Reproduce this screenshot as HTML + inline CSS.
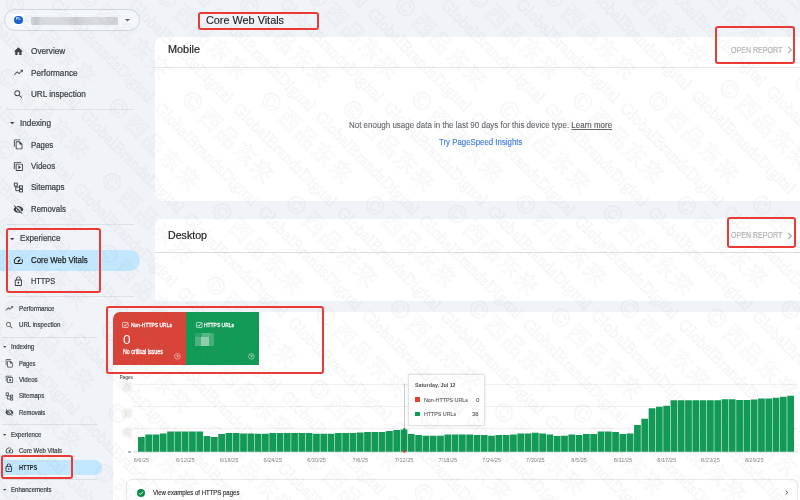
<!DOCTYPE html>
<html lang="en"><head><meta charset="utf-8"><title>Core Web Vitals</title>
<style>
html,body{margin:0;padding:0}
body{width:800px;height:500px;overflow:hidden;position:relative;background:#f0f4f9;font-family:"Liberation Sans","Noto Sans CJK SC",sans-serif}
.t{position:absolute;white-space:nowrap;transform-origin:0 50%}
.a{position:absolute}
.card{position:absolute;background:#fff}
.hr{position:absolute;height:1px;background:#dde1e6}
.rb{position:absolute;border:2px solid #ea3a33;border-radius:3px;box-sizing:border-box}
svg{position:absolute;overflow:visible}
</style></head><body>
<div class="card" style="left:155px;top:36.5px;width:660px;height:164.5px;border-radius:7px"></div>
<div class="hr" style="left:155px;top:66.5px;width:645px;background:#e6e8eb"></div>
<div class="card" style="left:155px;top:218.7px;width:660px;height:82.3px;border-radius:7px 7px 0 0"></div>
<div class="hr" style="left:155px;top:252px;width:645px;background:#dcdfe3"></div>
<div class="card" style="left:113px;top:312px;width:700px;height:200px"></div>
<div class="t" style="left:206.00px;top:11.50px;font-size:11px;line-height:17.6px;color:#1f1f1f;transform:scaleX(0.9864);-webkit-text-stroke:0.15px #1f1f1f;">Core Web Vitals</div>
<div class="t" style="left:168.00px;top:41.20px;font-size:10.5px;line-height:16.8px;color:#1f1f1f;transform:scaleX(1.0345);-webkit-text-stroke:0.2px #1f1f1f;">Mobile</div>
<div class="t" style="left:168.00px;top:227.20px;font-size:10.5px;line-height:16.8px;color:#1f1f1f;transform:scaleX(1.0125);-webkit-text-stroke:0.2px #1f1f1f;">Desktop</div>
<div class="t" style="left:731.10px;top:43.88px;font-size:8.4px;line-height:13.44px;color:#b0b2b5;transform:scaleX(0.8444);-webkit-text-stroke:0.15px #b0b2b5;">OPEN REPORT</div>
<div class="t" style="left:731.10px;top:229.28px;font-size:8.4px;line-height:13.44px;color:#b0b2b5;transform:scaleX(0.8444);-webkit-text-stroke:0.15px #b0b2b5;">OPEN REPORT</div>
<svg style="left:787px;top:46.4px" width="6" height="8" viewBox="0 0 6 8"><path d="M1.3 1 L4.3 4 L1.3 7" fill="none" stroke="#a8abae" stroke-width="1.1"/></svg>
<svg style="left:787px;top:231.8px" width="6" height="8" viewBox="0 0 6 8"><path d="M1.3 1 L4.3 4 L1.3 7" fill="none" stroke="#a8abae" stroke-width="1.1"/></svg>
<div class="t" style="left:349.20px;top:118.66px;font-size:8.3px;line-height:13.28px;color:#63676b;transform:scaleX(0.9603);-webkit-text-stroke:0.1px #63676b;">Not enough usage data in the last 90 days for this device type. <span style="color:#4a4d51;text-decoration:underline">Learn more</span></div>
<div class="t" style="left:439.30px;top:135.76px;font-size:8.3px;line-height:13.28px;color:#3b78e7;transform:scaleX(0.9447);-webkit-text-stroke:0.12px #3b78e7;">Try PageSpeed Insights</div>
<div class="a" style="left:3.5px;top:9px;width:136px;height:22px;border:1px solid #d3d8de;border-radius:11px;box-sizing:border-box;background:#f3f6fa"></div>
<div class="a" style="left:12.8px;top:14.4px;width:11.2px;height:10.8px;background:#fff;border-radius:1px"></div>
<div class="a" style="left:14.4px;top:15.7px;width:8.2px;height:8.2px;border-radius:50%;background:#1a62c9"></div>
<div class="t" style="left:16.10px;top:17.42px;font-size:3.6px;line-height:5.76px;color:#e8f0fe;font-weight:700;">PL</div>
<div class="a" style="left:31px;top:16.8px;width:87px;height:8.6px;background:linear-gradient(90deg,#d3d7dc 0,#c6cbd0 6%,#d8dbe0 12%,#d6dade 40%,#cbcfd4 52%,#d1d5da 60%,#d9dce1 75%,#ced2d7 100%);filter:blur(.7px);border-radius:1px"></div>
<svg style="left:124.50px;top:18.75px" width="5" height="2.5" viewBox="0 0 10 5"><path d="M0 0h10L5 5z" fill="#5f6368"/></svg>
<svg style="left:12.60px;top:45.80px" width="10.8" height="10.8" viewBox="0 0 24 24" fill="#3c4043" color="#3c4043"><path d="M10 20v-6h4v6h5v-8h3L12 3 2 12h3v8z"/></svg>
<div class="t" style="left:31.00px;top:45.16px;font-size:8.3px;line-height:13.28px;color:#3c4043;transform:scaleX(0.9887);-webkit-text-stroke:0.22px #3c4043;">Overview</div>
<svg style="left:12.60px;top:67.20px" width="10.8" height="10.8" viewBox="0 0 24 24" fill="#3c4043" color="#3c4043"><path d="M16 6l2.29 2.29-4.88 4.88-4-4L2 16.59 3.41 18l6-6 4 4 6.3-6.29L22 12V6z"/></svg>
<div class="t" style="left:31.00px;top:66.56px;font-size:8.3px;line-height:13.28px;color:#3c4043;transform:scaleX(0.9786);-webkit-text-stroke:0.22px #3c4043;">Performance</div>
<svg style="left:12.60px;top:88.60px" width="10.8" height="10.8" viewBox="0 0 24 24" fill="#3c4043" color="#3c4043"><path d="M15.5 14h-.79l-.28-.27A6.471 6.471 0 0 0 16 9.5 6.5 6.5 0 1 0 9.5 16c1.61 0 3.09-.59 4.23-1.57l.27.28v.79l5 4.99L20.49 19l-4.99-5zm-6 0C7.01 14 5 11.99 5 9.5S7.01 5 9.500 5 14 7.010 14 9.500 11.990 14 9.500 14z"/></svg>
<div class="t" style="left:31.00px;top:87.96px;font-size:8.3px;line-height:13.28px;color:#3c4043;transform:scaleX(0.9790);-webkit-text-stroke:0.22px #3c4043;">URL inspection</div>
<div class="hr" style="left:7px;top:108.8px;width:127px"></div>
<svg style="left:10.30px;top:122.20px" width="4.4" height="2.2" viewBox="0 0 10 5"><path d="M0 0h10L5 5z" fill="#3c4043"/></svg>
<div class="t" style="left:20.20px;top:117.06px;font-size:8.3px;line-height:13.28px;color:#3c4043;transform:scaleX(0.9879);-webkit-text-stroke:0.22px #3c4043;">Indexing</div>
<svg style="left:12.60px;top:139.20px" width="10.8" height="10.8" viewBox="0 0 24 24" fill="#3c4043" color="#3c4043"><path d="M16 1H4c-1.100 0-2 .900-2 2v14h2V3h12V1zm-1 4H8c-1.100 0-1.990.900-1.990 2L6 21c0 1.100.890 2 1.990 2H19c1.100 0 2-.900 2-2V11l-6-6zM8 21V7h6v5h5v9H8z"/></svg>
<div class="t" style="left:31.00px;top:138.56px;font-size:8.3px;line-height:13.28px;color:#3c4043;transform:scaleX(0.9433);-webkit-text-stroke:0.22px #3c4043;">Pages</div>
<svg style="left:12.60px;top:160.60px" width="10.8" height="10.8" viewBox="0 0 24 24" fill="#3c4043" color="#3c4043"><path transform="translate(0 24) scale(1 -1)" d="M4 6H2v14c0 1.100.900 2 2 2h14v-2H4V6zm16-4H8c-1.100 0-2 .900-2 2v12c0 1.100.900 2 2 2h12c1.100 0 2-.900 2-2V4c0-1.100-.900-2-2-2zm0 14H8V4h12v12zM12 5.500v9l6-4.500z"/></svg>
<div class="t" style="left:31.00px;top:159.96px;font-size:8.3px;line-height:13.28px;color:#3c4043;transform:scaleX(0.9592);-webkit-text-stroke:0.22px #3c4043;">Videos</div>
<svg style="left:12.60px;top:182.10px" width="10.8" height="10.8" viewBox="0 0 24 24" fill="#3c4043" color="#3c4043"><g fill="none" stroke="currentColor" stroke-width="2.100"><rect x="3" y="2.500" width="6.500" height="6.500"/><rect x="14.500" y="8.500" width="6.500" height="5.500"/><rect x="14.500" y="16.500" width="6.500" height="5.500"/><path d="M6.250 9v10.250h8.250M6.250 11.250h8.250"/></g></svg>
<div class="t" style="left:31.00px;top:181.46px;font-size:8.3px;line-height:13.28px;color:#3c4043;transform:scaleX(0.9711);-webkit-text-stroke:0.22px #3c4043;">Sitemaps</div>
<svg style="left:12.60px;top:203.60px" width="10.8" height="10.8" viewBox="0 0 24 24" fill="#3c4043" color="#3c4043"><path d="M12 7c2.760 0 5 2.240 5 5 0 .650-.130 1.260-.360 1.830l2.920 2.920c1.510-1.260 2.700-2.890 3.430-4.750-1.730-4.390-6-7.500-11-7.500-1.400 0-2.740.250-3.980.700l2.160 2.160C10.740 7.130 11.350 7 12 7zM2 4.270l2.280 2.280.460.460C3.080 8.300 1.780 10.020 1 12c1.730 4.390 6 7.500 11 7.500 1.550 0 3.030-.300 4.380-.840l.420.420L19.730 22 21 20.730 3.270 3 2 4.270zM7.530 9.800l1.550 1.550c-.050.210-.080.430-.080.650 0 1.660 1.340 3 3 3 .220 0 .440-.030.650-.080l1.550 1.550c-.670.330-1.410.530-2.200.530-2.760 0-5-2.240-5-5 0-.790.200-1.530.530-2.200zm4.310-.780l3.150 3.150.020-.160c0-1.660-1.340-3-3-3l-.170.010z"/></svg>
<div class="t" style="left:31.00px;top:202.96px;font-size:8.3px;line-height:13.28px;color:#3c4043;transform:scaleX(0.9431);-webkit-text-stroke:0.22px #3c4043;">Removals</div>
<div class="hr" style="left:7px;top:223.8px;width:127px"></div>
<svg style="left:10.30px;top:237.50px" width="4.4" height="2.2" viewBox="0 0 10 5"><path d="M0 0h10L5 5z" fill="#3c4043"/></svg>
<div class="t" style="left:20.40px;top:232.26px;font-size:8.3px;line-height:13.28px;color:#3c4043;transform:scaleX(0.9729);-webkit-text-stroke:0.22px #3c4043;">Experience</div>
<div class="a" style="left:-20px;top:249.6px;width:159.5px;height:21.2px;border-radius:11px;background:#c2e7ff"></div>
<svg style="left:12.60px;top:254.90px" width="10.8" height="10.8" viewBox="0 0 24 24" fill="#1f1f1f" color="#1f1f1f"><path d="M20.380 8.570l-1.230 1.850a8 8 0 0 1-.220 7.580H5.070A8 8 0 0 1 15.580 6.850l1.850-1.230A10 10 0 0 0 3.350 19a2 2 0 0 0 1.720 1h13.850a2 2 0 0 0 1.740-1 10 10 0 0 0-.270-10.440zm-9.790 6.840a2 2 0 0 0 2.830 0l5.660-8.490-8.490 5.660a2 2 0 0 0 0 2.830z"/></svg>
<div class="t" style="left:31.00px;top:254.26px;font-size:8.3px;line-height:13.28px;color:#1f1f1f;transform:scaleX(0.9486);-webkit-text-stroke:0.25px #1f1f1f;">Core Web Vitals</div>
<svg style="left:12.60px;top:276.40px" width="10.8" height="10.8" viewBox="0 0 24 24" fill="#33363a" color="#33363a"><path d="M18 8h-1V6c0-2.760-2.240-5-5-5S7 3.240 7 6v2H6c-1.100 0-2 .900-2 2v10c0 1.100.900 2 2 2h12c1.100 0 2-.900 2-2V10c0-1.100-.900-2-2-2zM9 6c0-1.660 1.340-3 3-3s3 1.340 3 3v2H9V6zm9 14H6V10h12v10zm-6-3c1.100 0 2-.900 2-2s-.900-2-2-2-2 .900-2 2 .900 2 2 2z"/></svg>
<div class="t" style="left:31.00px;top:275.36px;font-size:8.3px;line-height:13.28px;color:#3c4043;transform:scaleX(0.8895);-webkit-text-stroke:0.22px #3c4043;">HTTPS</div>
<div class="hr" style="left:7px;top:296.4px;width:127px"></div>
<svg style="left:4.90px;top:304.20px" width="8.8" height="8.8" viewBox="0 0 24 24" fill="#3c4043" color="#3c4043"><path d="M16 6l2.29 2.29-4.88 4.88-4-4L2 16.59 3.41 18l6-6 4 4 6.3-6.29L22 12V6z"/></svg>
<div class="t" style="left:18.80px;top:303.96px;font-size:6.3px;line-height:10.08px;color:#3c4043;transform:scaleX(0.9843);-webkit-text-stroke:0.2px #3c4043;">Performance</div>
<svg style="left:4.90px;top:320.60px" width="8.8" height="8.8" viewBox="0 0 24 24" fill="#3c4043" color="#3c4043"><path d="M15.5 14h-.79l-.28-.27A6.471 6.471 0 0 0 16 9.5 6.5 6.5 0 1 0 9.5 16c1.61 0 3.09-.59 4.23-1.57l.27.28v.79l5 4.99L20.49 19l-4.99-5zm-6 0C7.01 14 5 11.99 5 9.5S7.01 5 9.500 5 14 7.010 14 9.500 11.990 14 9.500 14z"/></svg>
<div class="t" style="left:18.80px;top:320.36px;font-size:6.3px;line-height:10.08px;color:#3c4043;transform:scaleX(0.9744);-webkit-text-stroke:0.2px #3c4043;">URL inspection</div>
<div class="hr" style="left:2px;top:336.6px;width:94.5px"></div>
<svg style="left:3.30px;top:346.35px" width="3.4" height="1.7" viewBox="0 0 10 5"><path d="M0 0h10L5 5z" fill="#3c4043"/></svg>
<div class="t" style="left:10.60px;top:342.36px;font-size:6.3px;line-height:10.08px;color:#3c4043;transform:scaleX(0.9782);-webkit-text-stroke:0.2px #3c4043;">Indexing</div>
<svg style="left:4.70px;top:359.20px" width="8.8" height="8.8" viewBox="0 0 24 24" fill="#3c4043" color="#3c4043"><path d="M16 1H4c-1.100 0-2 .900-2 2v14h2V3h12V1zm-1 4H8c-1.100 0-1.990.900-1.990 2L6 21c0 1.100.890 2 1.990 2H19c1.100 0 2-.900 2-2V11l-6-6zM8 21V7h6v5h5v9H8z"/></svg>
<div class="t" style="left:18.80px;top:358.96px;font-size:6.3px;line-height:10.08px;color:#3c4043;transform:scaleX(0.9181);-webkit-text-stroke:0.2px #3c4043;">Pages</div>
<svg style="left:4.70px;top:375.20px" width="8.8" height="8.8" viewBox="0 0 24 24" fill="#3c4043" color="#3c4043"><path transform="translate(0 24) scale(1 -1)" d="M4 6H2v14c0 1.100.900 2 2 2h14v-2H4V6zm16-4H8c-1.100 0-2 .900-2 2v12c0 1.100.900 2 2 2h12c1.100 0 2-.900 2-2V4c0-1.100-.900-2-2-2zm0 14H8V4h12v12zM12 5.500v9l6-4.500z"/></svg>
<div class="t" style="left:18.80px;top:374.96px;font-size:6.3px;line-height:10.08px;color:#3c4043;transform:scaleX(0.9713);-webkit-text-stroke:0.2px #3c4043;">Videos</div>
<svg style="left:4.70px;top:391.70px" width="8.8" height="8.8" viewBox="0 0 24 24" fill="#3c4043" color="#3c4043"><g fill="none" stroke="currentColor" stroke-width="2.100"><rect x="3" y="2.500" width="6.500" height="6.500"/><rect x="14.500" y="8.500" width="6.500" height="5.500"/><rect x="14.500" y="16.500" width="6.500" height="5.500"/><path d="M6.250 9v10.250h8.250M6.250 11.250h8.250"/></g></svg>
<div class="t" style="left:18.80px;top:391.46px;font-size:6.3px;line-height:10.08px;color:#3c4043;transform:scaleX(0.9596);-webkit-text-stroke:0.2px #3c4043;">Sitemaps</div>
<svg style="left:4.70px;top:407.90px" width="8.8" height="8.8" viewBox="0 0 24 24" fill="#3c4043" color="#3c4043"><path d="M12 7c2.760 0 5 2.240 5 5 0 .650-.130 1.260-.360 1.830l2.920 2.920c1.510-1.260 2.700-2.890 3.430-4.750-1.730-4.390-6-7.500-11-7.500-1.400 0-2.740.250-3.980.700l2.160 2.160C10.740 7.130 11.350 7 12 7zM2 4.270l2.280 2.280.460.460C3.080 8.300 1.780 10.020 1 12c1.730 4.390 6 7.500 11 7.500 1.550 0 3.030-.300 4.380-.840l.420.420L19.730 22 21 20.730 3.270 3 2 4.270zM7.530 9.800l1.550 1.550c-.050.210-.080.430-.080.650 0 1.660 1.340 3 3 3 .220 0 .440-.030.650-.080l1.550 1.550c-.670.330-1.410.530-2.200.530-2.760 0-5-2.240-5-5 0-.790.200-1.530.530-2.200zm4.310-.780l3.150 3.150.020-.160c0-1.660-1.340-3-3-3l-.170.010z"/></svg>
<div class="t" style="left:18.80px;top:407.66px;font-size:6.3px;line-height:10.08px;color:#3c4043;transform:scaleX(0.9390);-webkit-text-stroke:0.2px #3c4043;">Removals</div>
<div class="hr" style="left:2px;top:424.2px;width:94.5px"></div>
<svg style="left:3.30px;top:434.05px" width="3.4" height="1.7" viewBox="0 0 10 5"><path d="M0 0h10L5 5z" fill="#3c4043"/></svg>
<div class="t" style="left:10.60px;top:429.96px;font-size:6.3px;line-height:10.08px;color:#3c4043;transform:scaleX(0.9613);-webkit-text-stroke:0.2px #3c4043;">Experience</div>
<svg style="left:4.80px;top:446.40px" width="8.8" height="8.8" viewBox="0 0 24 24" fill="#3c4043" color="#3c4043"><path d="M20.380 8.570l-1.230 1.850a8 8 0 0 1-.220 7.580H5.070A8 8 0 0 1 15.580 6.850l1.850-1.230A10 10 0 0 0 3.350 19a2 2 0 0 0 1.720 1h13.850a2 2 0 0 0 1.740-1 10 10 0 0 0-.270-10.440zm-9.790 6.840a2 2 0 0 0 2.830 0l5.660-8.490-8.490 5.660a2 2 0 0 0 0 2.830z"/></svg>
<div class="t" style="left:18.80px;top:446.16px;font-size:6.3px;line-height:10.08px;color:#3c4043;transform:scaleX(0.9495);-webkit-text-stroke:0.2px #3c4043;">Core Web Vitals</div>
<div class="a" style="left:-20px;top:459.7px;width:121.7px;height:15.8px;border-radius:8px;background:#c2e7ff"></div>
<svg style="left:4.40px;top:462.50px" width="9.6" height="9.6" viewBox="0 0 24 24" fill="#1f1f1f" color="#1f1f1f"><path d="M18 8h-1V6c0-2.760-2.240-5-5-5S7 3.240 7 6v2H6c-1.100 0-2 .900-2 2v10c0 1.100.900 2 2 2h12c1.100 0 2-.900 2-2V10c0-1.100-.900-2-2-2zM9 6c0-1.660 1.340-3 3-3s3 1.340 3 3v2H9V6zm9 14H6V10h12v10zm-6-3c1.100 0 2-.900 2-2s-.900-2-2-2-2 .900-2 2 .900 2 2 2z"/></svg>
<div class="t" style="left:18.80px;top:462.96px;font-size:6.3px;line-height:10.08px;color:#1f1f1f;font-weight:700;transform:scaleX(0.8861);">HTTPS</div>
<div class="hr" style="left:2px;top:479px;width:94.5px"></div>
<svg style="left:3.30px;top:489.25px" width="3.4" height="1.7" viewBox="0 0 10 5"><path d="M0 0h10L5 5z" fill="#3c4043"/></svg>
<div class="t" style="left:10.60px;top:485.16px;font-size:6.3px;line-height:10.08px;color:#3c4043;transform:scaleX(0.9660);-webkit-text-stroke:0.2px #3c4043;">Enhancements</div>
<div class="a" style="left:113.1px;top:311.8px;width:73.1px;height:52.8px;background:#d94337;border-radius:7px 0 0 0"></div>
<div class="a" style="left:186.2px;top:311.8px;width:72.8px;height:52.8px;background:#109a55"></div>
<svg style="left:122.1px;top:322px" width="6.6" height="6" viewBox="0 0 22 20"><rect x="1.5" y="1.500" width="19" height="17" rx="2.500" fill="none" stroke="#fff" stroke-width="2.100"/><path d="M5.200 9.800l4 4.200 8.300-9.200" fill="none" stroke="#fff" stroke-width="2.900"/></svg>
<div class="t" style="left:131.00px;top:320.34px;font-size:6.2px;line-height:9.92px;color:#fff;transform:scaleX(0.8041);-webkit-text-stroke:0.3px #fff;">Non-HTTPS URLs</div>
<div class="t" style="left:122.60px;top:329.96px;font-size:12.8px;line-height:20.48px;color:#fff;transform:scaleX(1.0676);">0</div>
<div class="t" style="left:122.90px;top:346.96px;font-size:6.3px;line-height:10.08px;color:#fff;transform:scaleX(0.8421);-webkit-text-stroke:0.28px #fff;">No critical issues</div>
<svg style="left:174.4px;top:352.70000000000005px" width="6.8" height="6.8" viewBox="0 0 20 20"><circle cx="10" cy="10" r="8.300" fill="none" stroke="#fff" stroke-opacity=".8" stroke-width="1.700"/><text x="10" y="14.200" font-size="12" font-weight="700" text-anchor="middle" fill="#fff" fill-opacity=".85" font-family="Liberation Sans,sans-serif">?</text></svg>
<svg style="left:195.9px;top:322px" width="6.6" height="6" viewBox="0 0 22 20"><rect x="1.5" y="1.500" width="19" height="17" rx="2.500" fill="none" stroke="#fff" stroke-width="2.100"/><path d="M5.200 9.800l4 4.200 8.300-9.200" fill="none" stroke="#fff" stroke-width="2.900"/></svg>
<div class="t" style="left:203.80px;top:320.34px;font-size:6.2px;line-height:9.92px;color:#fff;transform:scaleX(0.7990);-webkit-text-stroke:0.3px #fff;">HTTPS URLs</div>
<div class="a" style="left:194.6px;top:332.8px;width:19.4px;height:13px;filter:blur(.5px);background:#3fae77"><div class="a" style="left:0;top:0;width:7px;height:4px;background:#2fa56c"></div><div class="a" style="left:7px;top:0;width:8px;height:4px;background:#55b686"></div><div class="a" style="left:6.500px;top:4px;width:8px;height:9px;background:#8fcfae"></div><div class="a" style="left:0;top:4px;width:6.500px;height:9px;background:#4db182"></div><div class="a" style="left:14.500px;top:4px;width:5px;height:9px;background:#43ad7b"></div></div>
<svg style="left:247.9px;top:352.70000000000005px" width="6.8" height="6.8" viewBox="0 0 20 20"><circle cx="10" cy="10" r="8.300" fill="none" stroke="#fff" stroke-opacity=".8" stroke-width="1.700"/><text x="10" y="14.200" font-size="12" font-weight="700" text-anchor="middle" fill="#fff" fill-opacity=".85" font-family="Liberation Sans,sans-serif">?</text></svg>
<svg style="left:0;top:0" width="800" height="500" viewBox="0 0 800 500">
<rect x="133" y="383.9" width="665" height="1" fill="#efefef"/>
<rect x="133" y="405.9" width="665" height="1" fill="#efefef"/>
<rect x="133" y="427.9" width="665" height="1" fill="#efefef"/>
<rect x="133" y="451.4" width="665" height="1" fill="#9aa0a6" fill-opacity=".4"/>
<rect x="128" y="451.5" width="3" height=".9" fill="#5f6368"/>
<path d="M138.00 451.70v-14.80h6.75v14.80zM145.29 451.70v-17.30h6.75v17.30zM152.59 451.70v-17.30h6.75v17.30zM159.88 451.70v-18.30h6.75v18.30zM167.18 451.70v-20.30h6.75v20.30zM174.47 451.70v-20.30h6.75v20.30zM181.77 451.70v-20.30h6.75v20.30zM189.06 451.70v-20.30h6.75v20.30zM196.36 451.70v-20.30h6.75v20.30zM203.66 451.70v-15.60h6.75v15.60zM210.95 451.70v-14.80h6.75v14.80zM218.25 451.70v-17.70h6.75v17.70zM225.54 451.70v-18.80h6.75v18.80zM232.83 451.70v-18.80h6.75v18.80zM240.13 451.70v-18.20h6.75v18.20zM247.43 451.70v-18.20h6.75v18.20zM254.72 451.70v-18.00h6.75v18.00zM262.01 451.70v-18.00h6.75v18.00zM269.31 451.70v-18.80h6.75v18.80zM276.61 451.70v-18.80h6.75v18.80zM283.90 451.70v-18.80h6.75v18.80zM291.19 451.70v-18.80h6.75v18.80zM298.49 451.70v-18.80h6.75v18.80zM305.78 451.70v-18.80h6.75v18.80zM313.08 451.70v-17.90h6.75v17.90zM320.38 451.70v-17.90h6.75v17.90zM327.67 451.70v-17.90h6.75v17.90zM334.97 451.70v-18.60h6.75v18.60zM342.26 451.70v-18.60h6.75v18.60zM349.56 451.70v-18.60h6.75v18.60zM356.85 451.70v-19.30h6.75v19.30zM364.14 451.70v-19.80h6.75v19.80zM371.44 451.70v-19.80h6.75v19.80zM378.74 451.70v-19.80h6.75v19.80zM386.03 451.70v-20.70h6.75v20.70zM393.32 451.70v-21.80h6.75v21.80zM400.62 451.70v-22.30h6.75v22.30zM407.92 451.70v-17.70h6.75v17.70zM415.21 451.70v-16.70h6.75v16.70zM422.50 451.70v-15.90h6.75v15.90zM429.80 451.70v-15.90h6.75v15.90zM437.09 451.70v-15.90h6.75v15.90zM444.39 451.70v-17.30h6.75v17.30zM451.69 451.70v-17.30h6.75v17.30zM458.98 451.70v-17.30h6.75v17.30zM466.27 451.70v-17.30h6.75v17.30zM473.57 451.70v-16.70h6.75v16.70zM480.87 451.70v-16.70h6.75v16.70zM488.16 451.70v-15.90h6.75v15.90zM495.45 451.70v-16.70h6.75v16.70zM502.75 451.70v-16.70h6.75v16.70zM510.05 451.70v-17.30h6.75v17.30zM517.34 451.70v-18.20h6.75v18.20zM524.63 451.70v-18.20h6.75v18.20zM531.93 451.70v-18.90h6.75v18.90zM539.23 451.70v-18.20h6.75v18.20zM546.52 451.70v-17.30h6.75v17.30zM553.82 451.70v-15.60h6.75v15.60zM561.11 451.70v-15.90h6.75v15.90zM568.40 451.70v-17.30h6.75v17.30zM575.70 451.70v-16.60h6.75v16.60zM583.00 451.70v-17.80h6.75v17.80zM590.29 451.70v-17.80h6.75v17.80zM597.59 451.70v-20.30h6.75v20.30zM604.88 451.70v-20.30h6.75v20.30zM612.17 451.70v-19.60h6.75v19.60zM619.47 451.70v-17.80h6.75v17.80zM626.76 451.70v-18.10h6.75v18.10zM634.06 451.70v-26.80h6.75v26.80zM641.36 451.70v-32.90h6.75v32.90zM648.65 451.70v-43.50h6.75v43.50zM655.95 451.70v-44.90h6.75v44.90zM663.24 451.70v-46.00h6.75v46.00zM670.53 451.70v-51.40h6.75v51.40zM677.83 451.70v-51.40h6.75v51.40zM685.12 451.70v-51.40h6.75v51.40zM692.42 451.70v-51.40h6.75v51.40zM699.72 451.70v-51.40h6.75v51.40zM707.01 451.70v-51.40h6.75v51.40zM714.30 451.70v-51.40h6.75v51.40zM721.60 451.70v-52.50h6.75v52.50zM728.89 451.70v-52.50h6.75v52.50zM736.19 451.70v-51.80h6.75v51.80zM743.49 451.70v-51.80h6.75v51.80zM750.78 451.70v-52.30h6.75v52.30zM758.08 451.70v-53.20h6.75v53.20zM765.37 451.70v-53.20h6.75v53.20zM772.66 451.70v-53.90h6.75v53.90zM779.96 451.70v-55.00h6.75v55.00zM787.25 451.70v-55.90h6.75v55.90z" fill="#109a55"/>
<rect x="403.97" y="383.8" width="0.9" height="45.60" fill="#c6c6c6"/>
<rect x="403.97" y="429.40" width="0.9" height="22.00" fill="#0b7f44" fill-opacity=".6"/>
<circle cx="404.37" cy="429.40" r="1.300" fill="#109a55"/>
<circle cx="404.37" cy="451.60" r="1.300" fill="#e53935"/>
<text x="141.45" y="461.5" font-size="5.600" text-anchor="middle" fill="#80868b" font-family="Liberation Sans,sans-serif">6/6/25</text>
<text x="185.22" y="461.5" font-size="5.600" text-anchor="middle" fill="#80868b" font-family="Liberation Sans,sans-serif">6/12/25</text>
<text x="228.99" y="461.5" font-size="5.600" text-anchor="middle" fill="#80868b" font-family="Liberation Sans,sans-serif">6/18/25</text>
<text x="272.76" y="461.5" font-size="5.600" text-anchor="middle" fill="#80868b" font-family="Liberation Sans,sans-serif">6/24/25</text>
<text x="316.53" y="461.5" font-size="5.600" text-anchor="middle" fill="#80868b" font-family="Liberation Sans,sans-serif">6/30/25</text>
<text x="360.30" y="461.5" font-size="5.600" text-anchor="middle" fill="#80868b" font-family="Liberation Sans,sans-serif">7/6/25</text>
<text x="404.07" y="461.5" font-size="5.600" text-anchor="middle" fill="#80868b" font-family="Liberation Sans,sans-serif">7/12/25</text>
<text x="447.84" y="461.5" font-size="5.600" text-anchor="middle" fill="#80868b" font-family="Liberation Sans,sans-serif">7/18/25</text>
<text x="491.61" y="461.5" font-size="5.600" text-anchor="middle" fill="#80868b" font-family="Liberation Sans,sans-serif">7/24/25</text>
<text x="535.38" y="461.5" font-size="5.600" text-anchor="middle" fill="#80868b" font-family="Liberation Sans,sans-serif">7/30/25</text>
<text x="579.15" y="461.5" font-size="5.600" text-anchor="middle" fill="#80868b" font-family="Liberation Sans,sans-serif">8/5/25</text>
<text x="622.92" y="461.5" font-size="5.600" text-anchor="middle" fill="#80868b" font-family="Liberation Sans,sans-serif">8/11/25</text>
<text x="666.69" y="461.5" font-size="5.600" text-anchor="middle" fill="#80868b" font-family="Liberation Sans,sans-serif">8/17/25</text>
<text x="710.46" y="461.5" font-size="5.600" text-anchor="middle" fill="#80868b" font-family="Liberation Sans,sans-serif">8/23/25</text>
<text x="754.23" y="461.5" font-size="5.600" text-anchor="middle" fill="#80868b" font-family="Liberation Sans,sans-serif">8/29/25</text>
<text x="119.7" y="379.2" font-size="4.900" font-weight="700" textLength="13.300" lengthAdjust="spacingAndGlyphs" fill="#5a5d61" font-family="Liberation Sans,sans-serif">Pages</text>
</svg>
<div class="a" style="left:123.3px;top:382px;width:8.3px;height:9.2px;background:#f1efec;filter:blur(.8px)"></div>
<div class="a" style="left:123.3px;top:409.2px;width:8.3px;height:9.2px;background:#f1efec;filter:blur(.8px)"></div>
<div class="a" style="left:123.3px;top:428px;width:8.3px;height:9.2px;background:#f1efec;filter:blur(.8px)"></div>
<div class="a" style="left:407.8px;top:374.2px;width:77.4px;height:52.3px;background:#fff;box-sizing:border-box;border:1px solid #e4e4e4;box-shadow:0 0 2px rgba(0,0,0,.12)"></div>
<div class="t" style="left:415.00px;top:381.06px;font-size:5.8px;line-height:9.28px;color:#4d4d4d;font-weight:700;transform:scaleX(0.9216);">Saturday, Jul 12</div>
<div class="a" style="left:415px;top:397.2px;width:4.8px;height:4.6px;background:#e04133"></div>
<div class="t" style="left:424.40px;top:396.18px;font-size:5.9px;line-height:9.44px;color:#5c5c5c;transform:scaleX(0.9068);-webkit-text-stroke:0.12px #5c5c5c;">Non-HTTPS URLs</div>
<div class="t" style="left:475.60px;top:396.18px;font-size:5.9px;line-height:9.44px;color:#5c5c5c;transform:scaleX(1.0361);-webkit-text-stroke:0.12px #5c5c5c;">0</div>
<div class="a" style="left:415px;top:411.7px;width:4.8px;height:4.6px;background:#109a55"></div>
<div class="t" style="left:424.40px;top:409.98px;font-size:5.9px;line-height:9.44px;color:#5c5c5c;transform:scaleX(0.9011);-webkit-text-stroke:0.12px #5c5c5c;">HTTPS URLs</div>
<div class="t" style="left:472.40px;top:409.98px;font-size:5.9px;line-height:9.44px;color:#5c5c5c;transform:scaleX(1.0057);-webkit-text-stroke:0.12px #5c5c5c;">38</div>
<div class="a" style="left:126px;top:479.4px;width:672px;height:40px;border:1px solid #e8eaed;border-radius:5px;box-sizing:border-box"></div>
<svg style="left:137px;top:488.6px" width="8" height="8" viewBox="0 0 16 16"><circle cx="8" cy="8" r="8" fill="#118a48"/><path d="M4 8.300l2.700 2.700 5.300-5.600" fill="none" stroke="#fff" stroke-width="1.900"/></svg>
<div class="t" style="left:152.60px;top:487.10px;font-size:7px;line-height:11.2px;color:#2b2b2b;transform:scaleX(0.8585);-webkit-text-stroke:0.15px #2b2b2b;">View examples of HTTPS pages</div>
<svg style="left:785.4px;top:490.2px" width="3.600" height="5" viewBox="0 0 5 7"><path d="M1 .8L3.800 3.500 1 6.200" fill="none" stroke="#333" stroke-width="1.300"/></svg>
<div class="rb" style="left:198px;top:12.4px;width:120.90px;height:17.80px"></div>
<div class="rb" style="left:715.1px;top:25.8px;width:80.20px;height:38.40px"></div>
<div class="rb" style="left:727.2px;top:216.7px;width:68.90px;height:31.70px"></div>
<div class="rb" style="left:5.7px;top:228.2px;width:95.50px;height:64.50px"></div>
<div class="rb" style="left:106.4px;top:306.3px;width:217.50px;height:67.30px"></div>
<div class="rb" style="left:1.2px;top:454.9px;width:71.40px;height:24.00px"></div>
<svg style="left:0;top:0;pointer-events:none" width="800" height="500" viewBox="0 0 800 500" fill="none" stroke="#8a9099" stroke-opacity=".115" stroke-width=".6">
<g transform="translate(-127.4 391.6) rotate(45)"><text x="-10" y="8.500" font-size="25" font-family="Liberation Sans,sans-serif">©</text><text x="14" y="8" font-size="22" letter-spacing="2" font-family="Noto Sans CJK SC,sans-serif">西品东来</text><text x="-23" y="33" font-size="16.500" textLength="139" font-family="Liberation Serif,serif">GlobalBrandsDigital</text></g>
<g transform="translate(-23.6 495.4) rotate(45)"><text x="-10" y="8.500" font-size="25" font-family="Liberation Sans,sans-serif">©</text><text x="14" y="8" font-size="22" letter-spacing="2" font-family="Noto Sans CJK SC,sans-serif">西品东来</text><text x="-23" y="33" font-size="16.500" textLength="139" font-family="Liberation Serif,serif">GlobalBrandsDigital</text></g>
<g transform="translate(-116.1 328.0) rotate(45)"><text x="-10" y="8.500" font-size="25" font-family="Liberation Sans,sans-serif">©</text><text x="14" y="8" font-size="22" letter-spacing="2" font-family="Noto Sans CJK SC,sans-serif">西品东来</text><text x="-23" y="33" font-size="16.500" textLength="139" font-family="Liberation Serif,serif">GlobalBrandsDigital</text></g>
<g transform="translate(-12.3 431.8) rotate(45)"><text x="-10" y="8.500" font-size="25" font-family="Liberation Sans,sans-serif">©</text><text x="14" y="8" font-size="22" letter-spacing="2" font-family="Noto Sans CJK SC,sans-serif">西品东来</text><text x="-23" y="33" font-size="16.500" textLength="139" font-family="Liberation Serif,serif">GlobalBrandsDigital</text></g>
<g transform="translate(91.5 535.6) rotate(45)"><text x="-10" y="8.500" font-size="25" font-family="Liberation Sans,sans-serif">©</text><text x="14" y="8" font-size="22" letter-spacing="2" font-family="Noto Sans CJK SC,sans-serif">西品东来</text><text x="-23" y="33" font-size="16.500" textLength="139" font-family="Liberation Serif,serif">GlobalBrandsDigital</text></g>
<g transform="translate(-102.7 266.4) rotate(45)"><text x="-10" y="8.500" font-size="25" font-family="Liberation Sans,sans-serif">©</text><text x="14" y="8" font-size="22" letter-spacing="2" font-family="Noto Sans CJK SC,sans-serif">西品东来</text><text x="-23" y="33" font-size="16.500" textLength="139" font-family="Liberation Serif,serif">GlobalBrandsDigital</text></g>
<g transform="translate(1.1 370.2) rotate(45)"><text x="-10" y="8.500" font-size="25" font-family="Liberation Sans,sans-serif">©</text><text x="14" y="8" font-size="22" letter-spacing="2" font-family="Noto Sans CJK SC,sans-serif">西品东来</text><text x="-23" y="33" font-size="16.500" textLength="139" font-family="Liberation Serif,serif">GlobalBrandsDigital</text></g>
<g transform="translate(104.9 474.0) rotate(45)"><text x="-10" y="8.500" font-size="25" font-family="Liberation Sans,sans-serif">©</text><text x="14" y="8" font-size="22" letter-spacing="2" font-family="Noto Sans CJK SC,sans-serif">西品东来</text><text x="-23" y="33" font-size="16.500" textLength="139" font-family="Liberation Serif,serif">GlobalBrandsDigital</text></g>
<g transform="translate(-89.6 206.4) rotate(45)"><text x="-10" y="8.500" font-size="25" font-family="Liberation Sans,sans-serif">©</text><text x="14" y="8" font-size="22" letter-spacing="2" font-family="Noto Sans CJK SC,sans-serif">西品东来</text><text x="-23" y="33" font-size="16.500" textLength="139" font-family="Liberation Serif,serif">GlobalBrandsDigital</text></g>
<g transform="translate(14.2 310.2) rotate(45)"><text x="-10" y="8.500" font-size="25" font-family="Liberation Sans,sans-serif">©</text><text x="14" y="8" font-size="22" letter-spacing="2" font-family="Noto Sans CJK SC,sans-serif">西品东来</text><text x="-23" y="33" font-size="16.500" textLength="139" font-family="Liberation Serif,serif">GlobalBrandsDigital</text></g>
<g transform="translate(118.0 414.0) rotate(45)"><text x="-10" y="8.500" font-size="25" font-family="Liberation Sans,sans-serif">©</text><text x="14" y="8" font-size="22" letter-spacing="2" font-family="Noto Sans CJK SC,sans-serif">西品东来</text><text x="-23" y="33" font-size="16.500" textLength="139" font-family="Liberation Serif,serif">GlobalBrandsDigital</text></g>
<g transform="translate(221.8 517.8) rotate(45)"><text x="-10" y="8.500" font-size="25" font-family="Liberation Sans,sans-serif">©</text><text x="14" y="8" font-size="22" letter-spacing="2" font-family="Noto Sans CJK SC,sans-serif">西品东来</text><text x="-23" y="33" font-size="16.500" textLength="139" font-family="Liberation Serif,serif">GlobalBrandsDigital</text></g>
<g transform="translate(-96.2 124.5) rotate(45)"><text x="-10" y="8.500" font-size="25" font-family="Liberation Sans,sans-serif">©</text><text x="14" y="8" font-size="22" letter-spacing="2" font-family="Noto Sans CJK SC,sans-serif">西品东来</text><text x="-23" y="33" font-size="16.500" textLength="139" font-family="Liberation Serif,serif">GlobalBrandsDigital</text></g>
<g transform="translate(7.6 228.3) rotate(45)"><text x="-10" y="8.500" font-size="25" font-family="Liberation Sans,sans-serif">©</text><text x="14" y="8" font-size="22" letter-spacing="2" font-family="Noto Sans CJK SC,sans-serif">西品东来</text><text x="-23" y="33" font-size="16.500" textLength="139" font-family="Liberation Serif,serif">GlobalBrandsDigital</text></g>
<g transform="translate(111.4 332.1) rotate(45)"><text x="-10" y="8.500" font-size="25" font-family="Liberation Sans,sans-serif">©</text><text x="14" y="8" font-size="22" letter-spacing="2" font-family="Noto Sans CJK SC,sans-serif">西品东来</text><text x="-23" y="33" font-size="16.500" textLength="139" font-family="Liberation Serif,serif">GlobalBrandsDigital</text></g>
<g transform="translate(215.2 435.9) rotate(45)"><text x="-10" y="8.500" font-size="25" font-family="Liberation Sans,sans-serif">©</text><text x="14" y="8" font-size="22" letter-spacing="2" font-family="Noto Sans CJK SC,sans-serif">西品东来</text><text x="-23" y="33" font-size="16.500" textLength="139" font-family="Liberation Serif,serif">GlobalBrandsDigital</text></g>
<g transform="translate(319.0 539.7) rotate(45)"><text x="-10" y="8.500" font-size="25" font-family="Liberation Sans,sans-serif">©</text><text x="14" y="8" font-size="22" letter-spacing="2" font-family="Noto Sans CJK SC,sans-serif">西品东来</text><text x="-23" y="33" font-size="16.500" textLength="139" font-family="Liberation Serif,serif">GlobalBrandsDigital</text></g>
<g transform="translate(-98.7 46.7) rotate(45)"><text x="-10" y="8.500" font-size="25" font-family="Liberation Sans,sans-serif">©</text><text x="14" y="8" font-size="22" letter-spacing="2" font-family="Noto Sans CJK SC,sans-serif">西品东来</text><text x="-23" y="33" font-size="16.500" textLength="139" font-family="Liberation Serif,serif">GlobalBrandsDigital</text></g>
<g transform="translate(5.1 150.5) rotate(45)"><text x="-10" y="8.500" font-size="25" font-family="Liberation Sans,sans-serif">©</text><text x="14" y="8" font-size="22" letter-spacing="2" font-family="Noto Sans CJK SC,sans-serif">西品东来</text><text x="-23" y="33" font-size="16.500" textLength="139" font-family="Liberation Serif,serif">GlobalBrandsDigital</text></g>
<g transform="translate(108.9 254.3) rotate(45)"><text x="-10" y="8.500" font-size="25" font-family="Liberation Sans,sans-serif">©</text><text x="14" y="8" font-size="22" letter-spacing="2" font-family="Noto Sans CJK SC,sans-serif">西品东来</text><text x="-23" y="33" font-size="16.500" textLength="139" font-family="Liberation Serif,serif">GlobalBrandsDigital</text></g>
<g transform="translate(212.7 358.1) rotate(45)"><text x="-10" y="8.500" font-size="25" font-family="Liberation Sans,sans-serif">©</text><text x="14" y="8" font-size="22" letter-spacing="2" font-family="Noto Sans CJK SC,sans-serif">西品东来</text><text x="-23" y="33" font-size="16.500" textLength="139" font-family="Liberation Serif,serif">GlobalBrandsDigital</text></g>
<g transform="translate(316.5 461.9) rotate(45)"><text x="-10" y="8.500" font-size="25" font-family="Liberation Sans,sans-serif">©</text><text x="14" y="8" font-size="22" letter-spacing="2" font-family="Noto Sans CJK SC,sans-serif">西品东来</text><text x="-23" y="33" font-size="16.500" textLength="139" font-family="Liberation Serif,serif">GlobalBrandsDigital</text></g>
<g transform="translate(-95.0 -24.9) rotate(45)"><text x="-10" y="8.500" font-size="25" font-family="Liberation Sans,sans-serif">©</text><text x="14" y="8" font-size="22" letter-spacing="2" font-family="Noto Sans CJK SC,sans-serif">西品东来</text><text x="-23" y="33" font-size="16.500" textLength="139" font-family="Liberation Serif,serif">GlobalBrandsDigital</text></g>
<g transform="translate(8.8 78.9) rotate(45)"><text x="-10" y="8.500" font-size="25" font-family="Liberation Sans,sans-serif">©</text><text x="14" y="8" font-size="22" letter-spacing="2" font-family="Noto Sans CJK SC,sans-serif">西品东来</text><text x="-23" y="33" font-size="16.500" textLength="139" font-family="Liberation Serif,serif">GlobalBrandsDigital</text></g>
<g transform="translate(112.6 182.7) rotate(45)"><text x="-10" y="8.500" font-size="25" font-family="Liberation Sans,sans-serif">©</text><text x="14" y="8" font-size="22" letter-spacing="2" font-family="Noto Sans CJK SC,sans-serif">西品东来</text><text x="-23" y="33" font-size="16.500" textLength="139" font-family="Liberation Serif,serif">GlobalBrandsDigital</text></g>
<g transform="translate(216.4 286.5) rotate(45)"><text x="-10" y="8.500" font-size="25" font-family="Liberation Sans,sans-serif">©</text><text x="14" y="8" font-size="22" letter-spacing="2" font-family="Noto Sans CJK SC,sans-serif">西品东来</text><text x="-23" y="33" font-size="16.500" textLength="139" font-family="Liberation Serif,serif">GlobalBrandsDigital</text></g>
<g transform="translate(320.2 390.3) rotate(45)"><text x="-10" y="8.500" font-size="25" font-family="Liberation Sans,sans-serif">©</text><text x="14" y="8" font-size="22" letter-spacing="2" font-family="Noto Sans CJK SC,sans-serif">西品东来</text><text x="-23" y="33" font-size="16.500" textLength="139" font-family="Liberation Serif,serif">GlobalBrandsDigital</text></g>
<g transform="translate(424.0 494.1) rotate(45)"><text x="-10" y="8.500" font-size="25" font-family="Liberation Sans,sans-serif">©</text><text x="14" y="8" font-size="22" letter-spacing="2" font-family="Noto Sans CJK SC,sans-serif">西品东来</text><text x="-23" y="33" font-size="16.500" textLength="139" font-family="Liberation Serif,serif">GlobalBrandsDigital</text></g>
<g transform="translate(-88.5 -98.6) rotate(45)"><text x="-10" y="8.500" font-size="25" font-family="Liberation Sans,sans-serif">©</text><text x="14" y="8" font-size="22" letter-spacing="2" font-family="Noto Sans CJK SC,sans-serif">西品东来</text><text x="-23" y="33" font-size="16.500" textLength="139" font-family="Liberation Serif,serif">GlobalBrandsDigital</text></g>
<g transform="translate(15.3 5.2) rotate(45)"><text x="-10" y="8.500" font-size="25" font-family="Liberation Sans,sans-serif">©</text><text x="14" y="8" font-size="22" letter-spacing="2" font-family="Noto Sans CJK SC,sans-serif">西品东来</text><text x="-23" y="33" font-size="16.500" textLength="139" font-family="Liberation Serif,serif">GlobalBrandsDigital</text></g>
<g transform="translate(119.1 109.0) rotate(45)"><text x="-10" y="8.500" font-size="25" font-family="Liberation Sans,sans-serif">©</text><text x="14" y="8" font-size="22" letter-spacing="2" font-family="Noto Sans CJK SC,sans-serif">西品东来</text><text x="-23" y="33" font-size="16.500" textLength="139" font-family="Liberation Serif,serif">GlobalBrandsDigital</text></g>
<g transform="translate(222.9 212.8) rotate(45)"><text x="-10" y="8.500" font-size="25" font-family="Liberation Sans,sans-serif">©</text><text x="14" y="8" font-size="22" letter-spacing="2" font-family="Noto Sans CJK SC,sans-serif">西品东来</text><text x="-23" y="33" font-size="16.500" textLength="139" font-family="Liberation Serif,serif">GlobalBrandsDigital</text></g>
<g transform="translate(326.7 316.6) rotate(45)"><text x="-10" y="8.500" font-size="25" font-family="Liberation Sans,sans-serif">©</text><text x="14" y="8" font-size="22" letter-spacing="2" font-family="Noto Sans CJK SC,sans-serif">西品东来</text><text x="-23" y="33" font-size="16.500" textLength="139" font-family="Liberation Serif,serif">GlobalBrandsDigital</text></g>
<g transform="translate(430.5 420.4) rotate(45)"><text x="-10" y="8.500" font-size="25" font-family="Liberation Sans,sans-serif">©</text><text x="14" y="8" font-size="22" letter-spacing="2" font-family="Noto Sans CJK SC,sans-serif">西品东来</text><text x="-23" y="33" font-size="16.500" textLength="139" font-family="Liberation Serif,serif">GlobalBrandsDigital</text></g>
<g transform="translate(534.3 524.2) rotate(45)"><text x="-10" y="8.500" font-size="25" font-family="Liberation Sans,sans-serif">©</text><text x="14" y="8" font-size="22" letter-spacing="2" font-family="Noto Sans CJK SC,sans-serif">西品东来</text><text x="-23" y="33" font-size="16.500" textLength="139" font-family="Liberation Serif,serif">GlobalBrandsDigital</text></g>
<g transform="translate(-14.4 -105.6) rotate(45)"><text x="-10" y="8.500" font-size="25" font-family="Liberation Sans,sans-serif">©</text><text x="14" y="8" font-size="22" letter-spacing="2" font-family="Noto Sans CJK SC,sans-serif">西品东来</text><text x="-23" y="33" font-size="16.500" textLength="139" font-family="Liberation Serif,serif">GlobalBrandsDigital</text></g>
<g transform="translate(89.4 -1.8) rotate(45)"><text x="-10" y="8.500" font-size="25" font-family="Liberation Sans,sans-serif">©</text><text x="14" y="8" font-size="22" letter-spacing="2" font-family="Noto Sans CJK SC,sans-serif">西品东来</text><text x="-23" y="33" font-size="16.500" textLength="139" font-family="Liberation Serif,serif">GlobalBrandsDigital</text></g>
<g transform="translate(193.3 102.0) rotate(45)"><text x="-10" y="8.500" font-size="25" font-family="Liberation Sans,sans-serif">©</text><text x="14" y="8" font-size="22" letter-spacing="2" font-family="Noto Sans CJK SC,sans-serif">西品东来</text><text x="-23" y="33" font-size="16.500" textLength="139" font-family="Liberation Serif,serif">GlobalBrandsDigital</text></g>
<g transform="translate(297.1 205.8) rotate(45)"><text x="-10" y="8.500" font-size="25" font-family="Liberation Sans,sans-serif">©</text><text x="14" y="8" font-size="22" letter-spacing="2" font-family="Noto Sans CJK SC,sans-serif">西品东来</text><text x="-23" y="33" font-size="16.500" textLength="139" font-family="Liberation Serif,serif">GlobalBrandsDigital</text></g>
<g transform="translate(400.9 309.6) rotate(45)"><text x="-10" y="8.500" font-size="25" font-family="Liberation Sans,sans-serif">©</text><text x="14" y="8" font-size="22" letter-spacing="2" font-family="Noto Sans CJK SC,sans-serif">西品东来</text><text x="-23" y="33" font-size="16.500" textLength="139" font-family="Liberation Serif,serif">GlobalBrandsDigital</text></g>
<g transform="translate(504.7 413.4) rotate(45)"><text x="-10" y="8.500" font-size="25" font-family="Liberation Sans,sans-serif">©</text><text x="14" y="8" font-size="22" letter-spacing="2" font-family="Noto Sans CJK SC,sans-serif">西品东来</text><text x="-23" y="33" font-size="16.500" textLength="139" font-family="Liberation Serif,serif">GlobalBrandsDigital</text></g>
<g transform="translate(608.5 517.2) rotate(45)"><text x="-10" y="8.500" font-size="25" font-family="Liberation Sans,sans-serif">©</text><text x="14" y="8" font-size="22" letter-spacing="2" font-family="Noto Sans CJK SC,sans-serif">西品东来</text><text x="-23" y="33" font-size="16.500" textLength="139" font-family="Liberation Serif,serif">GlobalBrandsDigital</text></g>
<g transform="translate(64.3 -105.0) rotate(45)"><text x="-10" y="8.500" font-size="25" font-family="Liberation Sans,sans-serif">©</text><text x="14" y="8" font-size="22" letter-spacing="2" font-family="Noto Sans CJK SC,sans-serif">西品东来</text><text x="-23" y="33" font-size="16.500" textLength="139" font-family="Liberation Serif,serif">GlobalBrandsDigital</text></g>
<g transform="translate(168.1 -1.2) rotate(45)"><text x="-10" y="8.500" font-size="25" font-family="Liberation Sans,sans-serif">©</text><text x="14" y="8" font-size="22" letter-spacing="2" font-family="Noto Sans CJK SC,sans-serif">西品东来</text><text x="-23" y="33" font-size="16.500" textLength="139" font-family="Liberation Serif,serif">GlobalBrandsDigital</text></g>
<g transform="translate(271.9 102.6) rotate(45)"><text x="-10" y="8.500" font-size="25" font-family="Liberation Sans,sans-serif">©</text><text x="14" y="8" font-size="22" letter-spacing="2" font-family="Noto Sans CJK SC,sans-serif">西品东来</text><text x="-23" y="33" font-size="16.500" textLength="139" font-family="Liberation Serif,serif">GlobalBrandsDigital</text></g>
<g transform="translate(375.7 206.4) rotate(45)"><text x="-10" y="8.500" font-size="25" font-family="Liberation Sans,sans-serif">©</text><text x="14" y="8" font-size="22" letter-spacing="2" font-family="Noto Sans CJK SC,sans-serif">西品东来</text><text x="-23" y="33" font-size="16.500" textLength="139" font-family="Liberation Serif,serif">GlobalBrandsDigital</text></g>
<g transform="translate(479.5 310.2) rotate(45)"><text x="-10" y="8.500" font-size="25" font-family="Liberation Sans,sans-serif">©</text><text x="14" y="8" font-size="22" letter-spacing="2" font-family="Noto Sans CJK SC,sans-serif">西品东来</text><text x="-23" y="33" font-size="16.500" textLength="139" font-family="Liberation Serif,serif">GlobalBrandsDigital</text></g>
<g transform="translate(583.3 414.0) rotate(45)"><text x="-10" y="8.500" font-size="25" font-family="Liberation Sans,sans-serif">©</text><text x="14" y="8" font-size="22" letter-spacing="2" font-family="Noto Sans CJK SC,sans-serif">西品东来</text><text x="-23" y="33" font-size="16.500" textLength="139" font-family="Liberation Serif,serif">GlobalBrandsDigital</text></g>
<g transform="translate(687.1 517.8) rotate(45)"><text x="-10" y="8.500" font-size="25" font-family="Liberation Sans,sans-serif">©</text><text x="14" y="8" font-size="22" letter-spacing="2" font-family="Noto Sans CJK SC,sans-serif">西品东来</text><text x="-23" y="33" font-size="16.500" textLength="139" font-family="Liberation Serif,serif">GlobalBrandsDigital</text></g>
<g transform="translate(146.4 -96.9) rotate(45)"><text x="-10" y="8.500" font-size="25" font-family="Liberation Sans,sans-serif">©</text><text x="14" y="8" font-size="22" letter-spacing="2" font-family="Noto Sans CJK SC,sans-serif">西品东来</text><text x="-23" y="33" font-size="16.500" textLength="139" font-family="Liberation Serif,serif">GlobalBrandsDigital</text></g>
<g transform="translate(250.2 6.9) rotate(45)"><text x="-10" y="8.500" font-size="25" font-family="Liberation Sans,sans-serif">©</text><text x="14" y="8" font-size="22" letter-spacing="2" font-family="Noto Sans CJK SC,sans-serif">西品东来</text><text x="-23" y="33" font-size="16.500" textLength="139" font-family="Liberation Serif,serif">GlobalBrandsDigital</text></g>
<g transform="translate(354.0 110.7) rotate(45)"><text x="-10" y="8.500" font-size="25" font-family="Liberation Sans,sans-serif">©</text><text x="14" y="8" font-size="22" letter-spacing="2" font-family="Noto Sans CJK SC,sans-serif">西品东来</text><text x="-23" y="33" font-size="16.500" textLength="139" font-family="Liberation Serif,serif">GlobalBrandsDigital</text></g>
<g transform="translate(457.8 214.5) rotate(45)"><text x="-10" y="8.500" font-size="25" font-family="Liberation Sans,sans-serif">©</text><text x="14" y="8" font-size="22" letter-spacing="2" font-family="Noto Sans CJK SC,sans-serif">西品东来</text><text x="-23" y="33" font-size="16.500" textLength="139" font-family="Liberation Serif,serif">GlobalBrandsDigital</text></g>
<g transform="translate(561.6 318.3) rotate(45)"><text x="-10" y="8.500" font-size="25" font-family="Liberation Sans,sans-serif">©</text><text x="14" y="8" font-size="22" letter-spacing="2" font-family="Noto Sans CJK SC,sans-serif">西品东来</text><text x="-23" y="33" font-size="16.500" textLength="139" font-family="Liberation Serif,serif">GlobalBrandsDigital</text></g>
<g transform="translate(665.4 422.1) rotate(45)"><text x="-10" y="8.500" font-size="25" font-family="Liberation Sans,sans-serif">©</text><text x="14" y="8" font-size="22" letter-spacing="2" font-family="Noto Sans CJK SC,sans-serif">西品东来</text><text x="-23" y="33" font-size="16.500" textLength="139" font-family="Liberation Serif,serif">GlobalBrandsDigital</text></g>
<g transform="translate(769.2 525.9) rotate(45)"><text x="-10" y="8.500" font-size="25" font-family="Liberation Sans,sans-serif">©</text><text x="14" y="8" font-size="22" letter-spacing="2" font-family="Noto Sans CJK SC,sans-serif">西品东来</text><text x="-23" y="33" font-size="16.500" textLength="139" font-family="Liberation Serif,serif">GlobalBrandsDigital</text></g>
<g transform="translate(215.0 -106.1) rotate(45)"><text x="-10" y="8.500" font-size="25" font-family="Liberation Sans,sans-serif">©</text><text x="14" y="8" font-size="22" letter-spacing="2" font-family="Noto Sans CJK SC,sans-serif">西品东来</text><text x="-23" y="33" font-size="16.500" textLength="139" font-family="Liberation Serif,serif">GlobalBrandsDigital</text></g>
<g transform="translate(318.8 -2.3) rotate(45)"><text x="-10" y="8.500" font-size="25" font-family="Liberation Sans,sans-serif">©</text><text x="14" y="8" font-size="22" letter-spacing="2" font-family="Noto Sans CJK SC,sans-serif">西品东来</text><text x="-23" y="33" font-size="16.500" textLength="139" font-family="Liberation Serif,serif">GlobalBrandsDigital</text></g>
<g transform="translate(422.6 101.5) rotate(45)"><text x="-10" y="8.500" font-size="25" font-family="Liberation Sans,sans-serif">©</text><text x="14" y="8" font-size="22" letter-spacing="2" font-family="Noto Sans CJK SC,sans-serif">西品东来</text><text x="-23" y="33" font-size="16.500" textLength="139" font-family="Liberation Serif,serif">GlobalBrandsDigital</text></g>
<g transform="translate(526.4 205.3) rotate(45)"><text x="-10" y="8.500" font-size="25" font-family="Liberation Sans,sans-serif">©</text><text x="14" y="8" font-size="22" letter-spacing="2" font-family="Noto Sans CJK SC,sans-serif">西品东来</text><text x="-23" y="33" font-size="16.500" textLength="139" font-family="Liberation Serif,serif">GlobalBrandsDigital</text></g>
<g transform="translate(630.2 309.1) rotate(45)"><text x="-10" y="8.500" font-size="25" font-family="Liberation Sans,sans-serif">©</text><text x="14" y="8" font-size="22" letter-spacing="2" font-family="Noto Sans CJK SC,sans-serif">西品东来</text><text x="-23" y="33" font-size="16.500" textLength="139" font-family="Liberation Serif,serif">GlobalBrandsDigital</text></g>
<g transform="translate(734.0 413.0) rotate(45)"><text x="-10" y="8.500" font-size="25" font-family="Liberation Sans,sans-serif">©</text><text x="14" y="8" font-size="22" letter-spacing="2" font-family="Noto Sans CJK SC,sans-serif">西品东来</text><text x="-23" y="33" font-size="16.500" textLength="139" font-family="Liberation Serif,serif">GlobalBrandsDigital</text></g>
<g transform="translate(302.1 -96.4) rotate(45)"><text x="-10" y="8.500" font-size="25" font-family="Liberation Sans,sans-serif">©</text><text x="14" y="8" font-size="22" letter-spacing="2" font-family="Noto Sans CJK SC,sans-serif">西品东来</text><text x="-23" y="33" font-size="16.500" textLength="139" font-family="Liberation Serif,serif">GlobalBrandsDigital</text></g>
<g transform="translate(406.0 7.4) rotate(45)"><text x="-10" y="8.500" font-size="25" font-family="Liberation Sans,sans-serif">©</text><text x="14" y="8" font-size="22" letter-spacing="2" font-family="Noto Sans CJK SC,sans-serif">西品东来</text><text x="-23" y="33" font-size="16.500" textLength="139" font-family="Liberation Serif,serif">GlobalBrandsDigital</text></g>
<g transform="translate(509.8 111.2) rotate(45)"><text x="-10" y="8.500" font-size="25" font-family="Liberation Sans,sans-serif">©</text><text x="14" y="8" font-size="22" letter-spacing="2" font-family="Noto Sans CJK SC,sans-serif">西品东来</text><text x="-23" y="33" font-size="16.500" textLength="139" font-family="Liberation Serif,serif">GlobalBrandsDigital</text></g>
<g transform="translate(613.6 215.0) rotate(45)"><text x="-10" y="8.500" font-size="25" font-family="Liberation Sans,sans-serif">©</text><text x="14" y="8" font-size="22" letter-spacing="2" font-family="Noto Sans CJK SC,sans-serif">西品东来</text><text x="-23" y="33" font-size="16.500" textLength="139" font-family="Liberation Serif,serif">GlobalBrandsDigital</text></g>
<g transform="translate(717.4 318.8) rotate(45)"><text x="-10" y="8.500" font-size="25" font-family="Liberation Sans,sans-serif">©</text><text x="14" y="8" font-size="22" letter-spacing="2" font-family="Noto Sans CJK SC,sans-serif">西品东来</text><text x="-23" y="33" font-size="16.500" textLength="139" font-family="Liberation Serif,serif">GlobalBrandsDigital</text></g>
<g transform="translate(821.2 422.6) rotate(45)"><text x="-10" y="8.500" font-size="25" font-family="Liberation Sans,sans-serif">©</text><text x="14" y="8" font-size="22" letter-spacing="2" font-family="Noto Sans CJK SC,sans-serif">西品东来</text><text x="-23" y="33" font-size="16.500" textLength="139" font-family="Liberation Serif,serif">GlobalBrandsDigital</text></g>
<g transform="translate(375.8 -105.0) rotate(45)"><text x="-10" y="8.500" font-size="25" font-family="Liberation Sans,sans-serif">©</text><text x="14" y="8" font-size="22" letter-spacing="2" font-family="Noto Sans CJK SC,sans-serif">西品东来</text><text x="-23" y="33" font-size="16.500" textLength="139" font-family="Liberation Serif,serif">GlobalBrandsDigital</text></g>
<g transform="translate(479.6 -1.2) rotate(45)"><text x="-10" y="8.500" font-size="25" font-family="Liberation Sans,sans-serif">©</text><text x="14" y="8" font-size="22" letter-spacing="2" font-family="Noto Sans CJK SC,sans-serif">西品东来</text><text x="-23" y="33" font-size="16.500" textLength="139" font-family="Liberation Serif,serif">GlobalBrandsDigital</text></g>
<g transform="translate(583.4 102.6) rotate(45)"><text x="-10" y="8.500" font-size="25" font-family="Liberation Sans,sans-serif">©</text><text x="14" y="8" font-size="22" letter-spacing="2" font-family="Noto Sans CJK SC,sans-serif">西品东来</text><text x="-23" y="33" font-size="16.500" textLength="139" font-family="Liberation Serif,serif">GlobalBrandsDigital</text></g>
<g transform="translate(687.2 206.4) rotate(45)"><text x="-10" y="8.500" font-size="25" font-family="Liberation Sans,sans-serif">©</text><text x="14" y="8" font-size="22" letter-spacing="2" font-family="Noto Sans CJK SC,sans-serif">西品东来</text><text x="-23" y="33" font-size="16.500" textLength="139" font-family="Liberation Serif,serif">GlobalBrandsDigital</text></g>
<g transform="translate(791.0 310.2) rotate(45)"><text x="-10" y="8.500" font-size="25" font-family="Liberation Sans,sans-serif">©</text><text x="14" y="8" font-size="22" letter-spacing="2" font-family="Noto Sans CJK SC,sans-serif">西品东来</text><text x="-23" y="33" font-size="16.500" textLength="139" font-family="Liberation Serif,serif">GlobalBrandsDigital</text></g>
<g transform="translate(451.2 -105.6) rotate(45)"><text x="-10" y="8.500" font-size="25" font-family="Liberation Sans,sans-serif">©</text><text x="14" y="8" font-size="22" letter-spacing="2" font-family="Noto Sans CJK SC,sans-serif">西品东来</text><text x="-23" y="33" font-size="16.500" textLength="139" font-family="Liberation Serif,serif">GlobalBrandsDigital</text></g>
<g transform="translate(555.0 -1.8) rotate(45)"><text x="-10" y="8.500" font-size="25" font-family="Liberation Sans,sans-serif">©</text><text x="14" y="8" font-size="22" letter-spacing="2" font-family="Noto Sans CJK SC,sans-serif">西品东来</text><text x="-23" y="33" font-size="16.500" textLength="139" font-family="Liberation Serif,serif">GlobalBrandsDigital</text></g>
<g transform="translate(658.8 102.0) rotate(45)"><text x="-10" y="8.500" font-size="25" font-family="Liberation Sans,sans-serif">©</text><text x="14" y="8" font-size="22" letter-spacing="2" font-family="Noto Sans CJK SC,sans-serif">西品东来</text><text x="-23" y="33" font-size="16.500" textLength="139" font-family="Liberation Serif,serif">GlobalBrandsDigital</text></g>
<g transform="translate(762.6 205.8) rotate(45)"><text x="-10" y="8.500" font-size="25" font-family="Liberation Sans,sans-serif">©</text><text x="14" y="8" font-size="22" letter-spacing="2" font-family="Noto Sans CJK SC,sans-serif">西品东来</text><text x="-23" y="33" font-size="16.500" textLength="139" font-family="Liberation Serif,serif">GlobalBrandsDigital</text></g>
<g transform="translate(522.7 -117.9) rotate(45)"><text x="-10" y="8.500" font-size="25" font-family="Liberation Sans,sans-serif">©</text><text x="14" y="8" font-size="22" letter-spacing="2" font-family="Noto Sans CJK SC,sans-serif">西品东来</text><text x="-23" y="33" font-size="16.500" textLength="139" font-family="Liberation Serif,serif">GlobalBrandsDigital</text></g>
<g transform="translate(626.5 -14.1) rotate(45)"><text x="-10" y="8.500" font-size="25" font-family="Liberation Sans,sans-serif">©</text><text x="14" y="8" font-size="22" letter-spacing="2" font-family="Noto Sans CJK SC,sans-serif">西品东来</text><text x="-23" y="33" font-size="16.500" textLength="139" font-family="Liberation Serif,serif">GlobalBrandsDigital</text></g>
<g transform="translate(730.3 89.7) rotate(45)"><text x="-10" y="8.500" font-size="25" font-family="Liberation Sans,sans-serif">©</text><text x="14" y="8" font-size="22" letter-spacing="2" font-family="Noto Sans CJK SC,sans-serif">西品东来</text><text x="-23" y="33" font-size="16.500" textLength="139" font-family="Liberation Serif,serif">GlobalBrandsDigital</text></g>
<g transform="translate(597.6 -122.2) rotate(45)"><text x="-10" y="8.500" font-size="25" font-family="Liberation Sans,sans-serif">©</text><text x="14" y="8" font-size="22" letter-spacing="2" font-family="Noto Sans CJK SC,sans-serif">西品东来</text><text x="-23" y="33" font-size="16.500" textLength="139" font-family="Liberation Serif,serif">GlobalBrandsDigital</text></g>
<g transform="translate(701.4 -18.4) rotate(45)"><text x="-10" y="8.500" font-size="25" font-family="Liberation Sans,sans-serif">©</text><text x="14" y="8" font-size="22" letter-spacing="2" font-family="Noto Sans CJK SC,sans-serif">西品东来</text><text x="-23" y="33" font-size="16.500" textLength="139" font-family="Liberation Serif,serif">GlobalBrandsDigital</text></g>
<g transform="translate(805.3 85.4) rotate(45)"><text x="-10" y="8.500" font-size="25" font-family="Liberation Sans,sans-serif">©</text><text x="14" y="8" font-size="22" letter-spacing="2" font-family="Noto Sans CJK SC,sans-serif">西品东来</text><text x="-23" y="33" font-size="16.500" textLength="139" font-family="Liberation Serif,serif">GlobalBrandsDigital</text></g>
<g transform="translate(676.4 -122.6) rotate(45)"><text x="-10" y="8.500" font-size="25" font-family="Liberation Sans,sans-serif">©</text><text x="14" y="8" font-size="22" letter-spacing="2" font-family="Noto Sans CJK SC,sans-serif">西品东来</text><text x="-23" y="33" font-size="16.500" textLength="139" font-family="Liberation Serif,serif">GlobalBrandsDigital</text></g>
<g transform="translate(780.2 -18.8) rotate(45)"><text x="-10" y="8.500" font-size="25" font-family="Liberation Sans,sans-serif">©</text><text x="14" y="8" font-size="22" letter-spacing="2" font-family="Noto Sans CJK SC,sans-serif">西品东来</text><text x="-23" y="33" font-size="16.500" textLength="139" font-family="Liberation Serif,serif">GlobalBrandsDigital</text></g>
<g transform="translate(755.5 -122.8) rotate(45)"><text x="-10" y="8.500" font-size="25" font-family="Liberation Sans,sans-serif">©</text><text x="14" y="8" font-size="22" letter-spacing="2" font-family="Noto Sans CJK SC,sans-serif">西品东来</text><text x="-23" y="33" font-size="16.500" textLength="139" font-family="Liberation Serif,serif">GlobalBrandsDigital</text></g>
</svg>
</body></html>
